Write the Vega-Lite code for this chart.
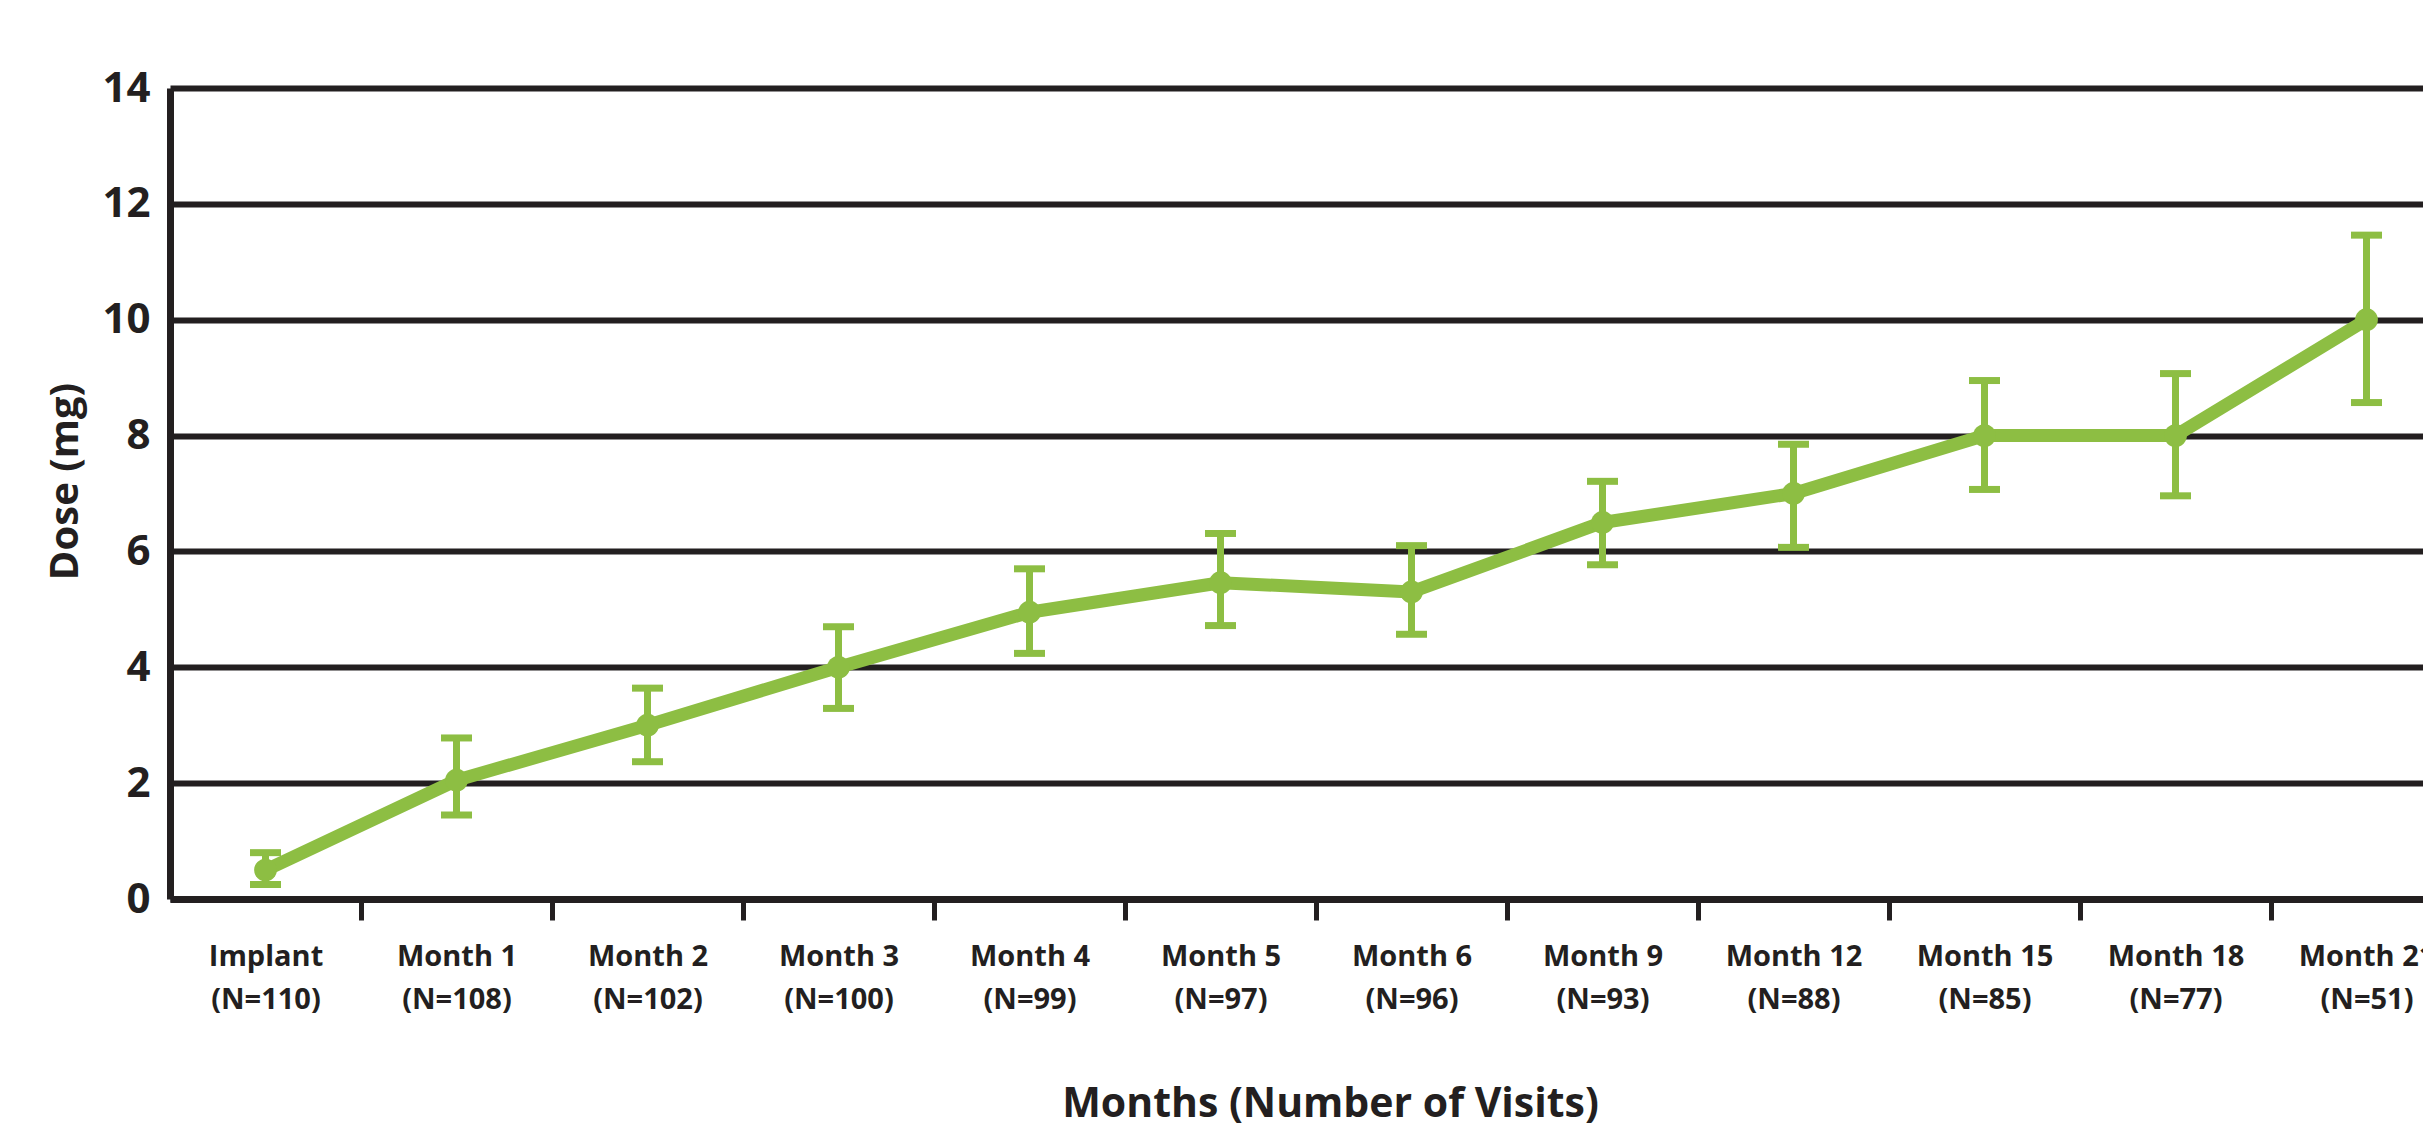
{
  "$schema": "https://vega.github.io/schema/vega-lite/v6.json",
  "autosize": {"type": "none"},
  "padding": {"left": 170, "top": 88, "right": 0, "bottom": 229},
  "width": 2253,
  "height": 811,
  "background": "white",
  "config": {
    "view": {"stroke": null},
    "font": "Open Sans"
  },
  "data": {
    "values": [
      {"visit": "Implant|(N=110)", "dose": 0.5, "low": 0.25, "high": 0.8},
      {"visit": "Month 1|(N=108)", "dose": 2.05, "low": 1.45, "high": 2.78},
      {"visit": "Month 2|(N=102)", "dose": 3.0, "low": 2.37, "high": 3.64},
      {"visit": "Month 3|(N=100)", "dose": 4.0, "low": 3.29, "high": 4.7},
      {"visit": "Month 4|(N=99)", "dose": 4.95, "low": 4.24, "high": 5.7},
      {"visit": "Month 5|(N=97)", "dose": 5.46, "low": 4.72, "high": 6.31},
      {"visit": "Month 6|(N=96)", "dose": 5.3, "low": 4.57, "high": 6.1},
      {"visit": "Month 9|(N=93)", "dose": 6.5, "low": 5.77, "high": 7.21},
      {"visit": "Month 12|(N=88)", "dose": 7.0, "low": 6.07, "high": 7.85},
      {"visit": "Month 15|(N=85)", "dose": 8.0, "low": 7.07, "high": 8.95},
      {"visit": "Month 18|(N=77)", "dose": 8.0, "low": 6.96, "high": 9.07},
      {"visit": "Month 21|(N=51)", "dose": 10.0, "low": 8.57, "high": 11.46}
    ]
  },
  "encoding": {
    "x": {
      "field": "visit",
      "type": "nominal",
      "sort": null,
      "scale": {"range": [0, 2292], "paddingInner": 0, "paddingOuter": 0},
      "axis": {
        "title": "Months (Number of Visits)",
        "titleFont": "Open Sans",
        "titleFontSize": 41,
        "titleFontWeight": "bold",
        "titleColor": "#231F20",
        "titleX": 1160,
        "titleY": 205,
        "titleAlign": "center",
        "titleBaseline": "middle",
        "labelExpr": "split(datum.label, '|')",
        "labelAngle": 0,
        "labelFont": "Open Sans",
        "labelFontSize": 29,
        "labelFontWeight": "bold",
        "labelColor": "#231F20",
        "labelLineHeight": 43,
        "labelPadding": 22,
        "labelBaseline": "top",
        "labelOffset": -95.5,
        "tickBand": "center",
        "tickOffset": 95.5,
        "tickSize": 21,
        "tickWidth": 5,
        "tickColor": "#231F20",
        "domainColor": "#231F20",
        "domainWidth": 7,
        "grid": false
      }
    }
  },
  "layer": [
    {
      "mark": {"type": "rule", "color": "#8DBE43", "strokeWidth": 7},
      "encoding": {
        "y": {
          "field": "low",
          "type": "quantitative",
          "scale": {"domain": [0, 14], "nice": false},
          "axis": {
            "title": "Dose (mg)",
            "titleFont": "Open Sans",
            "titleFontSize": 40,
            "titleFontWeight": "bold",
            "titleColor": "#231F20",
            "titleAngle": 270,
            "titleX": -105,
            "titleY": 393,
            "titleAlign": "center",
            "titleBaseline": "middle",
            "values": [0, 2, 4, 6, 8, 10, 12, 14],
            "format": "d",
            "labelFont": "Open Sans",
            "labelFontSize": 42,
            "labelFontWeight": "bold",
            "labelColor": "#231F20",
            "labelPadding": 20,
            "ticks": false,
            "domainColor": "#231F20",
            "domainWidth": 7,
            "grid": true,
            "gridColor": "#231F20",
            "gridWidth": 6,
            "gridOpacity": 1
          }
        },
        "y2": {"field": "high"}
      }
    },
    {
      "mark": {"type": "tick", "color": "#8DBE43", "size": 31, "thickness": 7, "opacity": 1},
      "encoding": {"y": {"field": "low", "type": "quantitative"}}
    },
    {
      "mark": {"type": "tick", "color": "#8DBE43", "size": 31, "thickness": 7, "opacity": 1},
      "encoding": {"y": {"field": "high", "type": "quantitative"}}
    },
    {
      "mark": {"type": "line", "color": "#8DBE43", "strokeWidth": 13, "strokeJoin": "round"},
      "encoding": {"y": {"field": "dose", "type": "quantitative"}}
    },
    {
      "mark": {"type": "point", "filled": true, "shape": "circle", "color": "#8DBE43", "size": 520, "opacity": 1},
      "encoding": {"y": {"field": "dose", "type": "quantitative"}}
    }
  ]
}
